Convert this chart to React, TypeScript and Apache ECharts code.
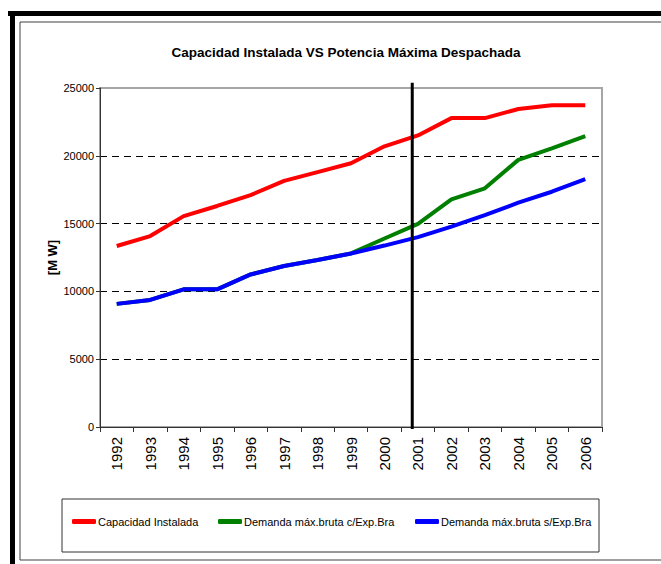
import React, { useEffect, useRef } from "react";
import * as echarts from "echarts";

const years = ["1992","1993","1994","1995","1996","1997","1998","1999","2000","2001","2002","2003","2004","2005","2006"];
const capacidadInstalada = [13350, 14080, 15550, 16300, 17100, 18150, 18800, 19450, 20700, 21500, 22780, 22780, 23450, 23720, 23720];
const demandaConExp = [9080, 9370, 10150, 10150, 11250, 11870, 12320, 12800, 13900, 14980, 16780, 17600, 19700, 20550, 21460];
const demandaSinExp = [9080, 9370, 10150, 10150, 11250, 11870, 12320, 12800, 13380, 14000, 14780, 15630, 16540, 17350, 18280];
const yTicks = { min: 0, max: 25000, interval: 5000 };
// position (in category units) of the vertical separator and its vertical span
const separatorIndex = 8.83;
const separatorSpan = [-150, 25380];

const seriesNames = ["Capacidad Instalada", "Demanda máx.bruta c/Exp.Bra", "Demanda máx.bruta s/Exp.Bra"];
const seriesColors = ["#ff0000", "#008000", "#0000ff"];

const FONT = "'Liberation Sans', Arial, sans-serif";

export default function App() {
  const ref = useRef<HTMLDivElement>(null);
  useEffect(() => {
    if (!ref.current) return;
    const chart = echarts.init(ref.current, undefined, { renderer: "svg" });
    const values = [capacidadInstalada, demandaConExp, demandaSinExp];
    const legendLefts = [72, 218, 415];
    chart.setOption({
      animation: false,
      backgroundColor: "#ffffff",
      title: {
        text: "Capacidad Instalada VS Potencia Máxima Despachada",
        left: 341,
        top: 40,
        textAlign: "center",
        textStyle: { fontFamily: FONT, fontSize: 13.5, fontWeight: "bold", color: "#000" },
      },
      legend: seriesNames.map((n, i) => ({
        data: [n],
        left: legendLefts[i],
        top: 516,
        padding: 0,
        icon: "roundRect",
        itemWidth: 24,
        itemHeight: 5,
        itemGap: 0,
        textStyle: { fontFamily: FONT, fontSize: 11, color: "#000", padding: [0, 0, 0, -3] },
        selectedMode: false,
      })),
      grid: {
        left: 100,
        top: 88,
        right: 59,
        bottom: 137,
        show: true,
        borderColor: "#a6a6a6",
        borderWidth: 2,
        backgroundColor: "transparent",
      },
      xAxis: [
        {
          type: "category",
          data: years,
          boundaryGap: true,
          axisLine: { onZero: false, lineStyle: { color: "#333", width: 1 } },
          axisTick: { show: true, length: 5, lineStyle: { color: "#333" } },
          axisLabel: { rotate: 90, fontFamily: FONT, fontSize: 15, color: "#000", margin: 10 },
          splitLine: { show: false },
        },
        {
          type: "value",
          min: -0.5,
          max: years.length - 0.5,
          show: false,
        },
      ],
      yAxis: {
        type: "value",
        min: yTicks.min,
        max: yTicks.max,
        interval: yTicks.interval,
        name: "[M W]",
        nameLocation: "middle",
        nameGap: 41,
        nameRotate: 90,
        nameMoveOverlap: false,
        nameTextStyle: { fontFamily: FONT, fontSize: 13, fontWeight: "bold", color: "#000" },
        axisLine: { show: true, onZero: false, lineStyle: { color: "#333", width: 1 } },
        axisTick: { show: true, length: 4, lineStyle: { color: "#333" } },
        axisLabel: { fontFamily: FONT, fontSize: 11, color: "#000", margin: 6, formatter: (v: number) => String(v) },
        splitLine: {
          show: true,
          showMinLine: false,
          showMaxLine: false,
          lineStyle: { color: "#000", type: [7, 5], width: 1 },
        },
      },
      series: [
        ...seriesNames.map((n, i) => ({
          name: n,
          type: "line",
          data: values[i],
          symbol: "none",
          color: seriesColors[i],
          lineStyle: { color: seriesColors[i], width: 4 },
          z: 3 + i,
        })),
        {
          name: "separator",
          type: "line",
          xAxisIndex: 1,
          data: [[separatorIndex, separatorSpan[0]], [separatorIndex, separatorSpan[1]]],
          symbol: "none",
          clip: false,
          silent: true,
          lineStyle: { color: "#000", width: 3 },
          z: 10,
        },
      ],
      graphic: [
        { type: "rect", shape: { x: 20, y: 22, width: 700, height: 538 }, style: { fill: "none", stroke: "#404040", lineWidth: 1 }, silent: true, z: 0 },
        { type: "rect", shape: { x: 8, y: 11, width: 660, height: 5 }, style: { fill: "#000" }, silent: true },
        { type: "rect", shape: { x: 10, y: 11, width: 5, height: 560 }, style: { fill: "#000" }, silent: true },
        { type: "rect", shape: { x: 62, y: 499, width: 537, height: 53 }, style: { fill: "none", stroke: "#333", lineWidth: 1 }, silent: true },
      ],
    });
    return () => chart.dispose();
  }, []);
  return <div ref={ref} style={{ position: "fixed", left: 0, top: 0, width: 661, height: 564 }} />;
}
